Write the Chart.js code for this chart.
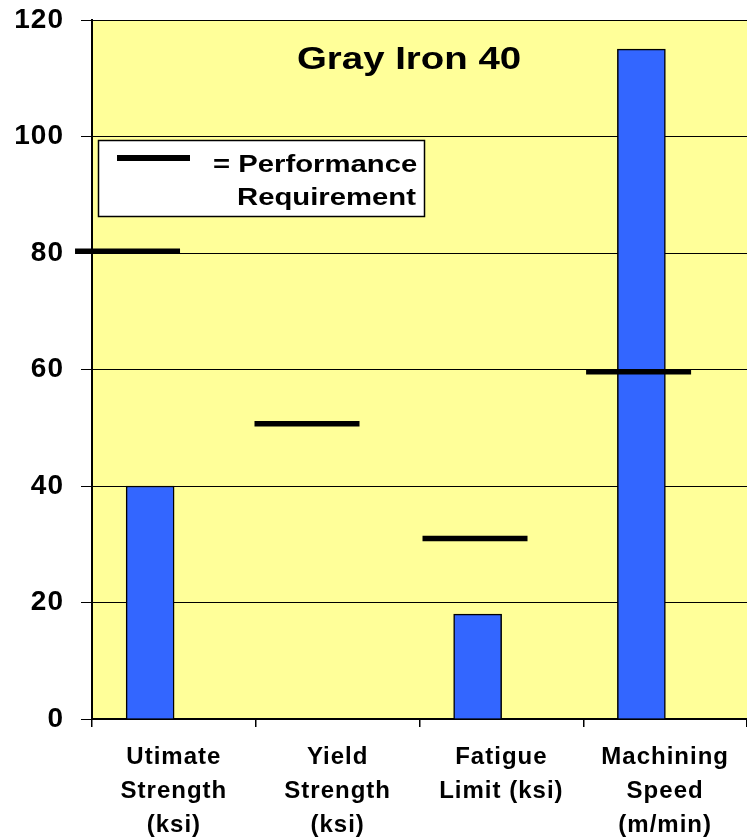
<!DOCTYPE html>
<html>
<head>
<meta charset="utf-8">
<script src="https://cdn.jsdelivr.net/npm/chart.js@4"></script>
<style>
html,body{margin:0;padding:0;background:#fff;overflow:hidden}
#wrap{width:747px;height:839px;position:relative}
canvas{display:block}
</style>
</head>
<body>
<div id="wrap"><canvas id="c" width="747" height="839"></canvas></div>
<script>
// ---- data ----
const categories = [["Utimate","Strength","(ksi)"],["Yield","Strength","(ksi)"],["Fatigue","Limit (ksi)"],["Machining","Speed","(m/min)"]];
const measuredValues = [40, null, 18, 115];
const requirementValues = [80.3, 50.7, 31, 59.6];
const yTickValues = [0, 20, 40, 60, 80, 100, 120];
const chartTitle = "Gray Iron 40";
const legendLines = ["= Performance", "Requirement"];

// ---- styling / layout ----
const FONT = "'Liberation Sans', Arial, Helvetica, sans-serif";
const barShift = -0.145;                                  // bars sit left of category centre (category units)
const reqLineShift = [-0.283, -0.187, -0.161, -0.162];    // requirement line shift (category units)

function stretchText(ctx, text, x, y, sx) {
  ctx.save();
  ctx.translate(x, y);
  ctx.scale(sx, 1);
  ctx.fillText(text, 0, 0);
  ctx.restore();
}

const decor = {
  id: 'decor',
  beforeDraw(chart) {
    const {ctx, chartArea: a} = chart;
    ctx.save();
    ctx.fillStyle = '#FFFF99';
    ctx.fillRect(a.left, a.top, a.right - a.left, a.bottom - a.top);
    ctx.restore();
    ctx.letterSpacing = '1px';
  },
  afterDraw(chart) {
    const ctx = chart.ctx;
    ctx.save();
    ctx.letterSpacing = '0px';
    ctx.textAlign = 'left';
    ctx.textBaseline = 'alphabetic';
    ctx.fillStyle = '#000';
    ctx.font = 'bold 32px ' + FONT;
    stretchText(ctx, chartTitle, 297, 69, 1.2);
    // legend box
    ctx.fillStyle = '#fff';
    ctx.fillRect(98, 140, 327, 77);
    ctx.strokeStyle = '#000';
    ctx.lineWidth = 1.5;
    ctx.strokeRect(98.5, 140.5, 326, 76);
    ctx.beginPath();
    ctx.moveTo(117, 158);
    ctx.lineTo(190, 158);
    ctx.lineWidth = 6;
    ctx.stroke();
    ctx.fillStyle = '#000';
    ctx.font = 'bold 24px ' + FONT;
    stretchText(ctx, legendLines[0], 213, 171.5, 1.22);
    stretchText(ctx, legendLines[1], 237, 205, 1.22);
    ctx.restore();
  }
};

new Chart(document.getElementById('c'), {
  type: 'bar',
  data: {
    labels: categories,
    datasets: [
      {
        type: 'scatter',
        label: 'Performance Requirement',
        data: requirementValues.map((v, i) => ({x: i + reqLineShift[i], y: v})),
        xAxisID: 'xr',
        yAxisID: 'y',
        pointStyle: 'line',
        pointRadius: 52.5,
        pointHoverRadius: 52.5,
        pointBorderWidth: 5.5,
        pointHoverBorderWidth: 5.5,
        pointBorderColor: '#000',
        pointBackgroundColor: '#000',
        borderColor: '#000',
        showLine: false,
        clip: false,
        order: 0
      },
      {
        type: 'bar',
        label: chartTitle,
        data: measuredValues.map((v, i) => ({x: i + barShift, y: v})),
        backgroundColor: '#3366FF',
        borderColor: '#000',
        borderWidth: 1.5,
        barThickness: 48,
        xAxisID: 'xr',
        yAxisID: 'y',
        order: 1
      }
    ]
  },
  options: {
    responsive: false,
    devicePixelRatio: 1,
    animation: false,
    events: [],
    layout: {autoPadding: false, padding: {top: 20, left: 0, right: 0, bottom: 0}},
    plugins: {legend: {display: false}, title: {display: false}, tooltip: {enabled: false}},
    scales: {
      x: {
        type: 'category',
        offset: true,
        grid: {display: true, drawOnChartArea: false, drawTicks: true, tickLength: 8, color: '#000', lineWidth: 1.5, offset: true},
        border: {display: true, color: '#000', width: 1.5},
        ticks: {color: '#000', font: {family: FONT, size: 24, weight: 'bold', lineHeight: '34px'}, padding: 13, maxRotation: 0, minRotation: 0, autoSkip: false},
        afterFit(s) { s.height = 120; s.paddingLeft = 0; s.paddingRight = 0; }
      },
      xr: {type: 'linear', min: -0.5, max: 3.5, offset: false, display: false, grid: {offset: false}},
      y: {
        min: 0,
        max: 120,
        afterBuildTicks(s) { s.ticks = yTickValues.map(v => ({value: v})); },
        grid: {color: '#000', lineWidth: 1, tickLength: 11, drawTicks: true},
        border: {display: true, color: '#000', width: 2},
        ticks: {color: '#000', font: {family: FONT, size: 28, weight: 'bold'}, padding: 17},
        afterFit(s) { s.width = 92; s.paddingTop = 0; s.paddingBottom = 0; }
      }
    }
  },
  plugins: [decor]
});
</script>
</body>
</html>
